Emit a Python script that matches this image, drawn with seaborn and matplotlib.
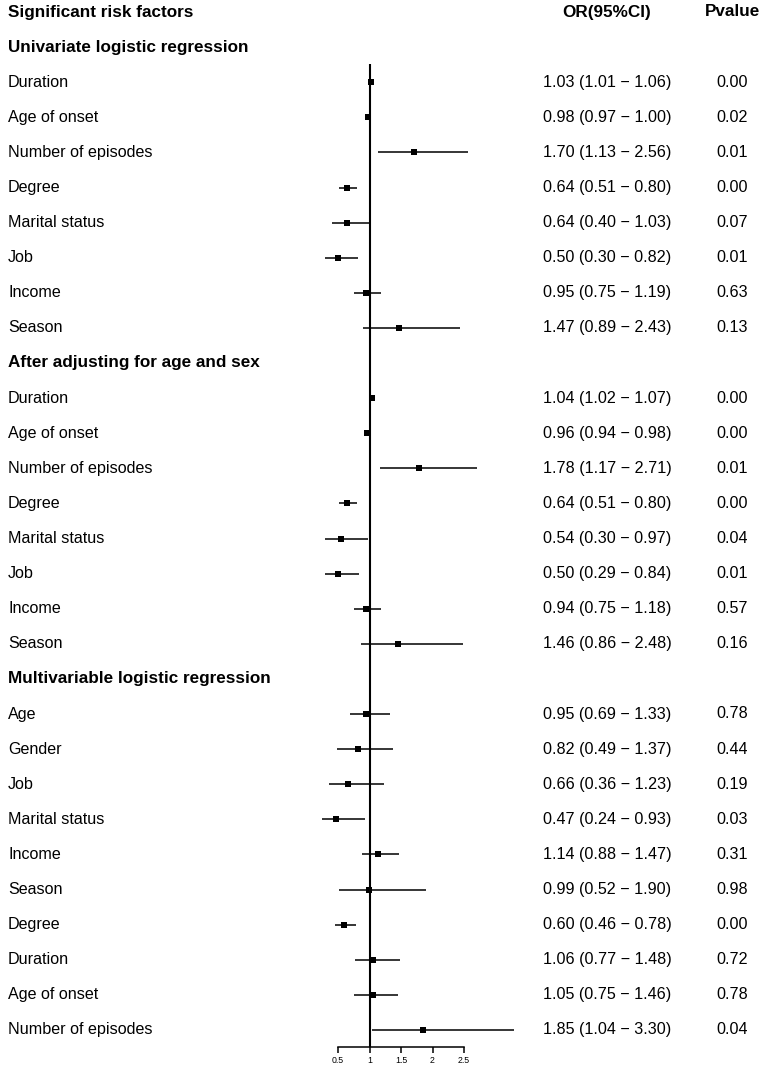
import matplotlib
matplotlib.use("Agg")
import matplotlib.pyplot as plt
import matplotlib.transforms as mtransforms
import seaborn as sns
import pandas as pd

# Datos de las tres secciones
univ_factors = ["Duration", "Age of onset", "Number of episodes", "Degree",
                "Marital status", "Job", "Income", "Season"]
univ_or = [1.03, 0.98, 1.70, 0.64, 0.64, 0.50, 0.95, 1.47]
univ_lo = [1.01, 0.97, 1.13, 0.51, 0.40, 0.30, 0.75, 0.89]
univ_hi = [1.06, 1.00, 2.56, 0.80, 1.03, 0.82, 1.19, 2.43]
univ_p = ["0.00", "0.02", "0.01", "0.00", "0.07", "0.01", "0.63", "0.13"]

adj_factors = univ_factors
adj_or = [1.04, 0.96, 1.78, 0.64, 0.54, 0.50, 0.94, 1.46]
adj_lo = [1.02, 0.94, 1.17, 0.51, 0.30, 0.29, 0.75, 0.86]
adj_hi = [1.07, 0.98, 2.71, 0.80, 0.97, 0.84, 1.18, 2.48]
adj_p = ["0.00", "0.00", "0.01", "0.00", "0.04", "0.01", "0.57", "0.16"]

multi_factors = ["Age", "Gender", "Job", "Marital status", "Income", "Season",
                 "Degree", "Duration", "Age of onset", "Number of episodes"]
multi_or = [0.95, 0.82, 0.66, 0.47, 1.14, 0.99, 0.60, 1.06, 1.05, 1.85]
multi_lo = [0.69, 0.49, 0.36, 0.24, 0.88, 0.52, 0.46, 0.77, 0.75, 1.04]
multi_hi = [1.33, 1.37, 1.23, 0.93, 1.47, 1.90, 0.78, 1.48, 1.46, 3.30]
multi_p = ["0.78", "0.44", "0.19", "0.03", "0.31", "0.98", "0.00", "0.72", "0.78", "0.04"]

sections = [
    ("Univariate logistic regression", univ_factors, univ_or, univ_lo, univ_hi, univ_p),
    ("After adjusting for age and sex", adj_factors, adj_or, adj_lo, adj_hi, adj_p),
    ("Multivariable logistic regression", multi_factors, multi_or, multi_lo, multi_hi, multi_p),
]
x_ticks = [0.5, 1, 1.5, 2, 2.5]
x_tick_labels = ["0.5", "1", "1.5", "2", "2.5"]

# Tabla de filas
rows = []
r = 1
for title, fac, o, lo, hi, p in sections:
    rows.append({"row": r, "label": title, "header": True})
    r += 1
    for i in range(len(fac)):
        rows.append({"row": r, "label": fac[i], "header": False, "or": o[i],
                     "lo": lo[i], "hi": hi[i],
                     "ci": f"{o[i]:.2f} ({lo[i]:.2f} \u2212 {hi[i]:.2f})", "p": p[i]})
        r += 1
df = pd.DataFrame(rows)
items = df[~df["header"]]

sns.set_theme(style="white")
plt.rcParams["font.family"] = ["Liberation Sans", "DejaVu Sans"]
plt.rcParams["text.color"] = "black"

W, H = 765, 1071
axis_y = 1047
top = 12
step = 35.1
x0, ppu = 338, 63.0
fs_plain, fs_bold = 11.6, 12.3

fig = plt.figure(figsize=(W / 100, H / 100), dpi=100)
ax = fig.add_axes([0, 1 - axis_y / H, 1, axis_y / H])
ax.set_xlim(0.5 - x0 / ppu, 0.5 + (W - x0) / ppu)
ymax = (axis_y - top) / step
ax.set_ylim(ymax, -top / step)

# Linea de referencia OR = 1
ax.vlines(1, 1.48, ymax, color="black", lw=1.5, zorder=2)
# Intervalos de confianza
ax.hlines(items["row"], items["lo"], items["hi"], color="black", lw=1.1, zorder=2)
sns.scatterplot(data=items, x="or", y="row", marker="s", color="black",
                s=20, linewidth=0, legend=False, ax=ax, zorder=3)

trans = mtransforms.blended_transform_factory(fig.transFigure, ax.transData)
ax.text(8 / W, 0, "Significant risk factors", transform=trans, fontsize=fs_bold,
        fontweight="bold", va="center", ha="left")
ax.text(607 / W, 0, "OR(95%CI)", transform=trans, fontsize=fs_bold,
        fontweight="bold", va="center", ha="center")
ax.text(732 / W, 0, "Pvalue", transform=trans, fontsize=fs_bold,
        fontweight="bold", va="center", ha="center")
for _, row in df.iterrows():
    if row["header"]:
        ax.text(8 / W, row["row"], row["label"], transform=trans, fontsize=fs_bold,
                fontweight="bold", va="center", ha="left")
    else:
        ax.text(8 / W, row["row"], row["label"], transform=trans, fontsize=fs_plain,
                va="center", ha="left")
        ax.text(607 / W, row["row"], row["ci"], transform=trans, fontsize=fs_plain,
                va="center", ha="center")
        ax.text(732 / W, row["row"], row["p"], transform=trans, fontsize=fs_plain,
                va="center", ha="center")

ax.set_xlabel("")
ax.set_ylabel("")
ax.set_yticks([])
ax.set_xticks(x_ticks)
ax.set_xticklabels(x_tick_labels, fontsize=6.3)
for s in ["top", "left", "right"]:
    ax.spines[s].set_visible(False)
ax.spines["bottom"].set_bounds(0.5, 2.5)
ax.spines["bottom"].set_linewidth(1.1)
ax.spines["bottom"].set_color("black")
ax.tick_params(axis="x", direction="out", length=4.5, width=1.1, color="black",
               bottom=True, pad=2, labelcolor="black")

fig.savefig("out.png", dpi=100)
